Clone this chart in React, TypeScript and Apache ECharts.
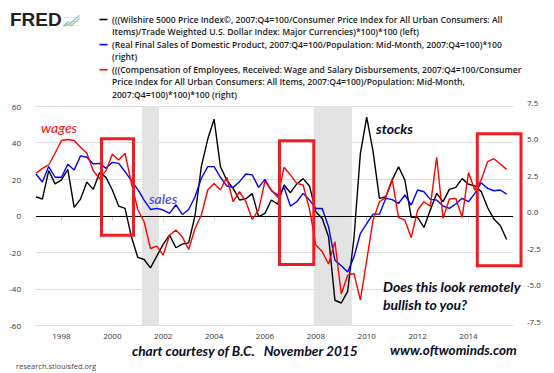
import React, { useEffect, useRef } from "react";
import * as echarts from "echarts";

// Quarterly observations, 1997:Q1 .. 2015:Q3
const startYear = 1997;
const quarterCount = 75;
const quarterX: number[] = Array.from({ length: quarterCount }, (_, i) => startYear + i * 0.25);

// Wilshire 5000 real, USD-adjusted (left axis)
const stocks: number[] = [
  10.4, 9.1, 24.7, 17.4, 19.6, 25.4, 4.6, 9.1, 18.4, 14.4,
  23.6, 21.0, 14.1, 5.3, 4.0, -11.5, -22.8, -23.9, -28.5, -22.0,
  -15.5, -10.6, -17.5, -15.5, -14.8, 0.0, 27.0, 41.8, 52.8, 26.8,
  19.5, 15.0, 8.6, 9.3, 12.1, -0.5, 1.3, 8.6, 6.4, 16.8,
  12.6, 17.4, 20.3, 16.3, 2.2, -1.5, -11.5, -46.2, -47.7, -41.3,
  -12.0, 34.0, 53.9, 35.1, 9.5, 10.4, 19.5, 26.8, 19.5, -0.9,
  -0.9, -6.4, 3.1, 12.2, 7.7, 14.4, 15.5, 20.3, 17.2, 16.3,
  13.2, 4.5, -1.8, -5.3, -13.0,
];

// Real final sales per capita (right axis)
const sales: number[] = [
  2.85, 2.31, 3.36, 2.63, 2.63, 3.52, 3.13, 4.09, 4.0, 3.54,
  3.58, 3.24, 3.65, 3.58, 3.01, 2.4, 1.8, 1.07, 0.43, 0.5,
  0.39, 0.16, 0.75, 0.09, 0.43, 1.3, 2.56, 3.36, 3.36, 2.63,
  2.03, 1.94, 2.33, 2.85, 2.79, 1.94, 2.49, 1.71, 1.42, 1.94,
  0.66, 0.96, 1.53, 1.07, 0.5, 0.5, -0.75, -3.04, -3.42, -3.84,
  -2.81, -1.21, -0.53, 0.11, 0.11, 1.19, 1.1, 0.84, 1.42, 0.73,
  1.76, 1.64, 1.12, 1.07, 0.66, 0.5, 0.8, 1.19, 0.96, 1.53,
  2.26, 1.87, 1.71, 1.76, 1.48,
];

// Real wages & salaries per capita (right axis)
const wages: number[] = [
  2.9, 3.24, 3.47, 4.27, 5.14, 5.21, 5.14, 4.68, 4.27, 3.08,
  2.53, 3.08, 4.2, 3.81, 4.27, 2.21, 0.43, -0.41, -2.24, -2.08,
  -2.69, -1.32, -0.98, -1.44, -2.31, -0.87, 0.05, 1.76, 2.21, 1.76,
  2.63, 0.96, 1.64, 0.96, -0.25, 0.39, 2.37, 1.76, 1.26, 3.31,
  2.79, 2.21, 2.1, 0.45, -2.0, -2.45, -3.3, -1.78, -5.35, -4.06,
  -3.95, -5.77, -3.04, -0.3, 0.96, 1.26, 2.5, -0.11, -0.3, -1.5,
  0.39, 0.96, 0.66, 4.0, -0.18, 1.14, 1.19, -0.11, 2.95, 1.75,
  2.44, 3.7, 3.9, 3.54, 3.17,
];

const recessions: [number, number][] = [
  [2001.167, 2001.833],
  [2007.917, 2009.417],
];

const xTickYears: number[] = [1998, 2000, 2002, 2004, 2006, 2008, 2010, 2012, 2014];

const legendLines: string[] = [
  "(((Wilshire 5000 Price Index©, 2007:Q4=100/Consumer Price Index for All Urban Consumers: All",
  "Items)/Trade Weighted U.S. Dollar Index: Major Currencies)*100)*100 (left)",
  "(Real Final Sales of Domestic Product, 2007:Q4=100/Population: Mid-Month, 2007:Q4=100)*100",
  "(right)",
  "(((Compensation of Employees, Received: Wage and Salary Disbursements, 2007:Q4=100/Consumer",
  "Price Index for All Urban Consumers: All Items, 2007:Q4=100)/Population: Mid-Month,",
  "2007:Q4=100)*100)*100 (right)",
];
const legendColors: string[] = ["#000000", "#0000ff", "#ff0000"];
const legendMarkerRows: number[] = [0, 2, 4];

export default function App() {
  const ref = useRef<HTMLDivElement>(null);

  useEffect(() => {
    if (!ref.current) return;
    const chart = echarts.init(ref.current, null, { renderer: "svg" });

    const pairs = (vals: number[]) => vals.map((v, i) => [quarterX[i], v]);
    const legendFont = "'Open Sans', sans-serif";
    const annFont = "Lato, 'Open Sans', sans-serif";

    const graphics: any[] = [];
    // FRED logo
    graphics.push({
      type: "text",
      left: 10,
      top: 10,
      style: { text: "FRED", font: "bold 19px 'Liberation Sans', Arial, sans-serif", fill: "#222" },
    });
    graphics.push({
      type: "group",
      left: 61,
      top: 13,
      children: [
        { type: "line", shape: { x1: 0, y1: 4, x2: 16, y2: 4 }, style: { stroke: "#d6dde6", lineWidth: 0.8 } },
        { type: "line", shape: { x1: 0, y1: 8, x2: 16, y2: 8 }, style: { stroke: "#d6dde6", lineWidth: 0.8 } },
        { type: "line", shape: { x1: 0, y1: 12, x2: 16, y2: 12 }, style: { stroke: "#d6dde6", lineWidth: 0.8 } },
        { type: "polyline", shape: { points: [[0, 12], [4, 9], [7, 10], [11, 6], [16, 2]] }, style: { stroke: "#8fb8d8", lineWidth: 1.2, fill: "none" } },
        { type: "polyline", shape: { points: [[0, 13], [4, 11], [8, 12], [12, 8], [16, 5]] }, style: { stroke: "#9cc87a", lineWidth: 1.2, fill: "none" } },
      ],
    });
    // legend
    legendLines.forEach((t, k) => {
      graphics.push({
        type: "text",
        x: 112,
        y: 19.5 + k * 12.55,
        style: { text: t, font: `600 8.6px ${legendFont}`, fill: "#1a1a1a", verticalAlign: "middle" },
      });
    });
    legendMarkerRows.forEach((row, k) => {
      graphics.push({
        type: "line",
        shape: { x1: 99.5, y1: 19.5 + row * 12.55, x2: 107.5, y2: 19.5 + row * 12.55 },
        style: { stroke: legendColors[k], lineWidth: 1.6 },
      });
    });
    // red boxes
    const boxes = [
      [101.5, 138.8, 32, 96.4],
      [279.5, 140.8, 34.3, 123.7],
      [477.3, 133.8, 43.7, 132],
    ];
    boxes.forEach((b) => {
      graphics.push({
        type: "rect",
        z: 100,
        shape: { x: b[0], y: b[1], width: b[2], height: b[3] },
        style: { fill: "none", stroke: "#ee1c25", lineWidth: 3 },
      });
    });
    // annotations
    const ann = (text: string, x: number, y: number, font: string, fill: string) =>
      graphics.push({ type: "text", z: 101, x, y, style: { text, font, fill, verticalAlign: "middle" } });
    ann("wages", 41, 127, `italic 500 14px ${annFont}`, "#ff1a1a");
    ann("sales", 149, 198, `italic 500 14px ${annFont}`, "#4646d8");
    ann("stocks", 376, 128, `italic bold 14px ${annFont}`, "#0b0b1e");
    ann("Does this look remotely", 383, 286, `italic bold 14px ${annFont}`, "#0b0b1e");
    ann("bullish to you?", 383, 304, `italic bold 14px ${annFont}`, "#0b0b1e");
    ann("chart courtesy of B.C.   November 2015", 132, 350, `italic bold 13.7px ${annFont}`, "#0b0b1e");
    ann("www.oftwominds.com", 390, 350, `italic bold 13.5px ${annFont}`, "#0b0b1e");
    ann("research.stlouisfed.org", 16, 366, `7.5px ${legendFont}`, "#444");

    chart.setOption({
      animation: false,
      backgroundColor: "#ffffff",
      grid: { left: 36, right: 41, top: 106, bottom: 47.5, containLabel: false },
      xAxis: {
        type: "value",
        min: 1997,
        max: 2015.75,
        splitLine: { show: false },
        axisLine: { show: true, lineStyle: { color: "#c3d1e2", width: 1 } },
        axisTick: { show: true, customValues: xTickYears, length: 5, lineStyle: { color: "#c3d1e2" } },
        axisLabel: {
          customValues: xTickYears,
          fontSize: 8,
          color: "#333",
          margin: 6,
          fontFamily: legendFont,
          formatter: (v: number) => String(Math.round(v)),
        },
      },
      yAxis: [
        {
          type: "value",
          min: -60,
          max: 60,
          interval: 20,
          axisLine: { show: false },
          axisTick: { show: false },
          splitLine: { show: true, lineStyle: { color: "#dcdcdc", width: 1 } },
          axisLabel: { fontSize: 8, color: "#333", margin: 15, fontFamily: legendFont },
        },
        {
          type: "value",
          min: -7.5,
          max: 7.5,
          interval: 2.5,
          position: "right",
          axisLine: { show: false },
          axisTick: { show: false },
          splitLine: { show: false },
          axisLabel: {
            fontSize: 8,
            color: "#333",
            margin: 14,
            fontFamily: legendFont,
            verticalAlign: "bottom",
            formatter: (v: number) => v.toFixed(1),
          },
        },
      ],
      series: [
        {
          type: "line",
          name: "recessions",
          data: [],
          z: 1,
          silent: true,
          markArea: {
            silent: true,
            itemStyle: { color: "#e3e3e3" },
            data: recessions.map((r) => [{ xAxis: r[0] }, { xAxis: r[1] }]),
          },
        },
        {
          type: "line",
          name: "stocks",
          yAxisIndex: 0,
          data: pairs(stocks),
          symbol: "none",
          z: 3,
          lineStyle: { color: "#000000", width: 1.4 },
          itemStyle: { color: "#000000" },
          markLine: {
            silent: true,
            symbol: "none",
            label: { show: false },
            lineStyle: { color: "#000000", width: 1.2, type: "solid" },
            data: [{ yAxis: 0 }],
          },
        },
        {
          type: "line",
          name: "sales",
          yAxisIndex: 1,
          data: pairs(sales),
          symbol: "none",
          z: 4,
          lineStyle: { color: "#0000ff", width: 1.4 },
          itemStyle: { color: "#0000ff" },
        },
        {
          type: "line",
          name: "wages",
          yAxisIndex: 1,
          data: pairs(wages),
          symbol: "none",
          z: 5,
          lineStyle: { color: "#ff0000", width: 1.4 },
          itemStyle: { color: "#ff0000" },
        },
      ],
      graphic: graphics,
    });

    return () => chart.dispose();
  }, []);

  return (
    <div
      ref={ref}
      style={{ position: "fixed", left: 0, top: 0, width: 554, height: 373, background: "#fff" }}
    />
  );
}
